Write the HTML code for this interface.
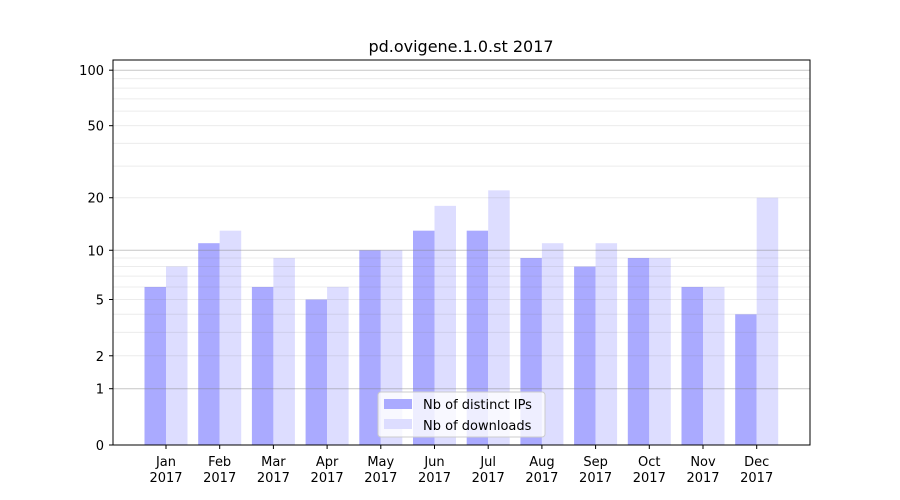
<!DOCTYPE html>
<html><head><meta charset="utf-8"><style>body{margin:0;background:#fff}svg{display:block;font-family:"DejaVu Sans","Liberation Sans",sans-serif}</style></head><body>
<svg width="900" height="500" xmlns="http://www.w3.org/2000/svg">
<rect width="900" height="500" fill="#fff"/>
<g id="bars"></g>
<g id="grid"></g>
<rect x="113" y="60" width="697" height="385" fill="none" stroke="#000" stroke-width="1"/>
<g id="ticks" font-size="13" fill="#000"></g>
<text x="461" y="52" text-anchor="middle" font-size="16">pd.ovigene.1.0.st 2017</text>
<g>
<rect x="378" y="392" width="167" height="45" rx="3" fill="#fff" fill-opacity="0.8" stroke="#ccc"/>
<rect x="384" y="399" width="28" height="10" fill="#aaaaff"/>
<text x="423" y="409" font-size="13">Nb of distinct IPs</text>
<rect x="384" y="419" width="28" height="10" fill="#ddddff"/>
<text x="423" y="430" font-size="13">Nb of downloads</text>
</g>
</svg>
<script>
const Y=v=>445-187*Math.log10(v+1);
const ns="http://www.w3.org/2000/svg";
function el(p,t,a,txt){const e=document.createElementNS(ns,t);for(const k in a)e.setAttribute(k,a[k]);if(txt!==undefined)e.textContent=txt;document.getElementById(p).appendChild(e);}
const minors=[2,3,4,5,6,7,8,9,20,30,40,50,60,70,80,90];
minors.forEach(v=>el("grid","line",{x1:113,x2:810,y1:Y(v),y2:Y(v),stroke:"#808080","stroke-opacity":0.15,"stroke-width":1}));
[1,10,100].forEach(v=>el("grid","line",{x1:113,x2:810,y1:Y(v),y2:Y(v),stroke:"#808080","stroke-opacity":0.45,"stroke-width":1}));
const ip=[6,11,6,5,10,13,13,9,8,9,6,4],dl=[8,13,9,6,10,18,22,11,11,9,6,20];
const m=["Jan","Feb","Mar","Apr","May","Jun","Jul","Aug","Sep","Oct","Nov","Dec"];
for(let i=0;i<12;i++){const c=166+53.7*i;
el("bars","rect",{x:c-21.5,y:Y(ip[i]),width:21.5,height:445-Y(ip[i]),fill:"#aaaaff"});
el("bars","rect",{x:c,y:Y(dl[i]),width:21.5,height:445-Y(dl[i]),fill:"#ddddff"});
el("ticks","line",{x1:c,x2:c,y1:445,y2:449,stroke:"#000"});
el("ticks","text",{x:c,y:466,"text-anchor":"middle"},m[i]);
el("ticks","text",{x:c,y:482,"text-anchor":"middle"},"2017");}
[0,1,2,5,10,20,50,100].forEach(v=>{el("ticks","line",{x1:109,x2:113,y1:Y(v),y2:Y(v),stroke:"#000"});
el("ticks","text",{x:104,y:Y(v)+5,"text-anchor":"end"},v);});
</script>
</body></html>
